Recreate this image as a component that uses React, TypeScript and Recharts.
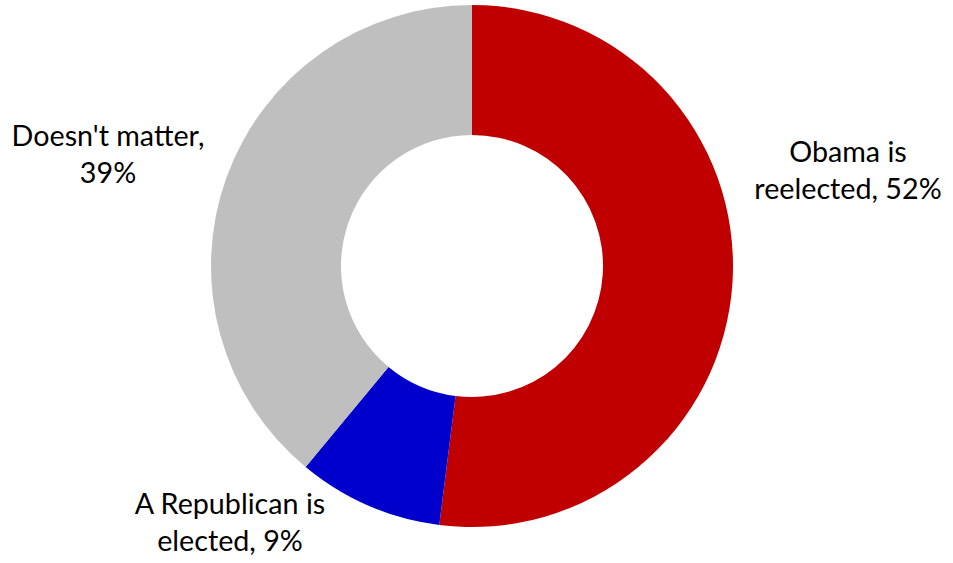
import React from 'react';
import { PieChart, Pie, Cell } from 'recharts';

const categories = ['Obama is reelected', 'A Republican is elected', "Doesn't matter"];
const values = [52, 9, 39];
const labelLines = [
  ['Obama is', 'reelected, 52%'],
  ['A Republican is', 'elected, 9%'],
  ["Doesn't matter,", '39%'],
];
const colors = ['#C00000', '#0000CC', '#BFBFBF'];
// label anchor offsets relative to pie centre (first line baseline)
const labelOffsets = [
  [376, -104],
  [-242, 248],
  [-364, -120],
];

const data = categories.map((name, i) => ({ name, value: values[i] }));

const FONT = 'Lato, "Open Sans", sans-serif';

const renderLabel = (props: any) => {
  const { cx, cy, index } = props;
  const [dx, dy] = labelOffsets[index];
  const x = cx + dx;
  const y = cy + dy;
  return (
    <text x={x} y={y} textAnchor="middle" fill="#000" fontSize={28.7} fontFamily={FONT}>
      {labelLines[index].map((t, i) => (
        <tspan key={i} x={x} dy={i === 0 ? 0 : 37}>
          {t}
        </tspan>
      ))}
    </text>
  );
};

export default function App() {
  return (
    <div style={{ position: 'absolute', left: 0, top: 0, background: '#fff' }}>
      <PieChart width={953} height={563} margin={{ top: 0, right: 0, bottom: 0, left: 0 }}>
        <Pie
          data={data}
          dataKey="value"
          nameKey="name"
          cx={472}
          cy={266}
          innerRadius={131}
          outerRadius={261}
          startAngle={90}
          endAngle={-270}
          stroke="none"
          isAnimationActive={false}
          label={renderLabel}
          labelLine={false}
        >
          {data.map((d, i) => (
            <Cell key={d.name} fill={colors[i]} />
          ))}
        </Pie>
      </PieChart>
    </div>
  );
}
